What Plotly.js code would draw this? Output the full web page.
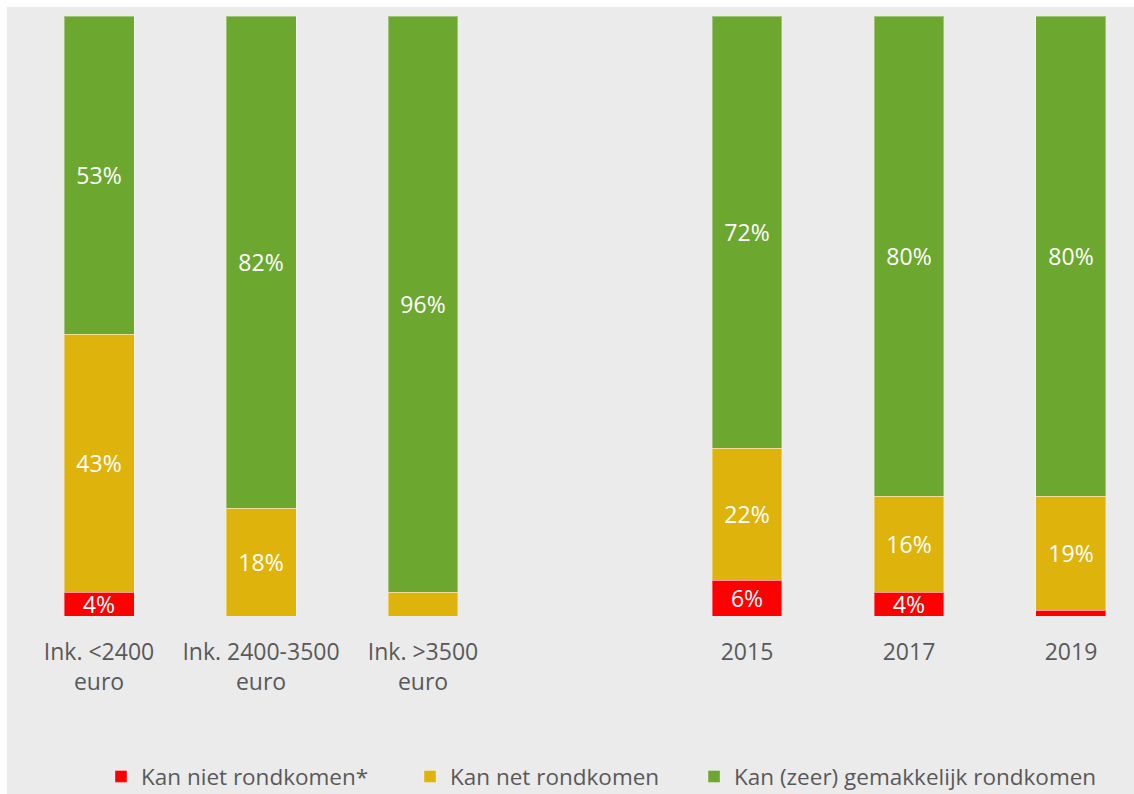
<!DOCTYPE html>
<html>
<head>
<meta charset="utf-8">
<script src="https://cdn.plot.ly/plotly-3.0.1.min.js"></script>
<style>
html,body{margin:0;padding:0;background:#ffffff;}
#chart{position:absolute;left:7px;top:7px;width:1127px;height:787px;}
</style>
</head>
<body>
<div id="chart"></div>
<script>
var categories = ['Ink. <2400<br>euro', 'Ink. 2400-3500<br>euro', 'Ink. >3500<br>euro', ' ', '2015', '2017', '2019'];
var seriesNames = ['Kan niet rondkomen*', 'Kan net rondkomen', 'Kan (zeer) gemakkelijk rondkomen'];
var nietRondkomen = [4, 0, 0, null, 6, 4, 1];
var netRondkomen = [43, 18, 4, null, 22, 16, 19];
var gemakkelijk = [53, 82, 96, null, 72, 80, 80];
var nietLabels = ['4%', '', '', '', '6%', '4%', ''];
var netLabels = ['43%', '18%', '', '', '22%', '16%', '19%'];
var gemakkelijkLabels = ['53%', '82%', '96%', '', '72%', '80%', '80%'];
var colors = ['#ff0000', '#deb30b', '#6ca72f'];

var fontFam = '"Open Sans", "Noto Sans", sans-serif';
function mk(name, vals, labels, color, legendId) {
  return {
    type: 'bar', name: name, x: categories, y: vals, text: labels,
    legend: legendId,
    textposition: 'inside', insidetextanchor: 'middle', constraintext: 'none',
    textfont: {color: '#ffffff', size: 23, family: fontFam},
    marker: {color: color, line: {color: 'rgba(255,255,255,0.35)', width: 1}},
    hoverinfo: 'skip', cliponaxis: false
  };
}
var data = [
  mk(seriesNames[0], nietRondkomen, nietLabels, colors[0], 'legend'),
  mk(seriesNames[1], netRondkomen, netLabels, colors[1], 'legend2'),
  mk(seriesNames[2], gemakkelijk, gemakkelijkLabels, colors[2], 'legend3')
];
function leg(x) {
  return {
    orientation: 'h', x: x, xanchor: 'left', y: -0.268, yanchor: 'middle',
    font: {size: 22.5, color: '#595959'}, itemwidth: 30,
    bgcolor: 'rgba(0,0,0,0)', borderwidth: 0
  };
}
var layout = {
  barmode: 'stack',
  bargap: 0.568,
  width: 1127, height: 787,
  paper_bgcolor: '#ebebeb', plot_bgcolor: '#ebebeb',
  margin: {l: 0, r: 0, t: 9, b: 178, autoexpand: false},
  showlegend: true,
  font: {family: fontFam, color: '#595959', size: 23},
  xaxis: {
    type: 'category', categoryorder: 'array', categoryarray: categories,
    range: [-0.568, 6.389], showgrid: false, zeroline: false, showline: false, automargin: false,
    ticks: '', ticklabelstandoff: 20, tickfont: {size: 23, color: '#595959'}, fixedrange: true
  },
  yaxis: {range: [0, 100], visible: false, showgrid: false, zeroline: false, fixedrange: true},
  legend: leg(0.0834),
  legend2: leg(0.3576),
  legend3: leg(0.6096)
};
Plotly.newPlot('chart', data, layout, {displayModeBar: false, staticPlot: true});
</script>
</body>
</html>
